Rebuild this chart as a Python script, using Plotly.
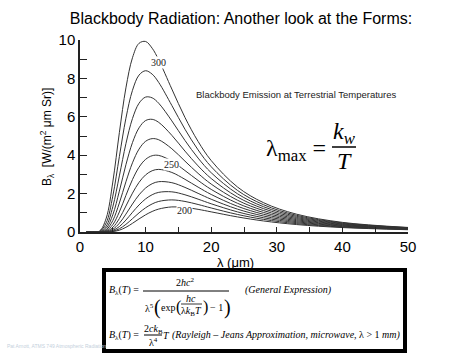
import plotly.graph_objects as go

# ---------------- data ----------------
wavelength_um = [1, 2, 3, 4, 5, 6, 7, 8, 9, 10, 11, 12, 14, 16, 18, 20, 24, 28, 33, 40, 50]
temperatures = [300, 290, 280, 270, 260, 250, 240, 230, 220, 210, 200]

B300 = [0, 0, 0.056, 0.722, 2.602, 5.176, 7.505, 9.077, 9.828, 9.923, 9.572, 8.960, 7.445, 5.967, 4.718, 3.722, 2.346, 1.523, 0.929, 0.502, 0.237]
B290 = [0, 0, 0.032, 0.478, 1.869, 3.926, 5.925, 7.378, 8.173, 8.400, 8.221, 7.788, 6.591, 5.353, 4.276, 3.399, 2.167, 1.417, 0.870, 0.474, 0.225]
B280 = [0, 0, 0.018, 0.307, 1.312, 2.923, 4.599, 5.910, 6.707, 7.027, 6.987, 6.705, 5.787, 4.768, 3.850, 3.087, 1.992, 1.314, 0.813, 0.445, 0.212]
B270 = [0, 0, 0.009, 0.191, 0.896, 2.129, 3.504, 4.657, 5.425, 5.804, 5.868, 5.710, 5.035, 4.214, 3.443, 2.786, 1.822, 1.213, 0.756, 0.417, 0.200]
B260 = [0, 0, 0.005, 0.114, 0.595, 1.512, 2.614, 3.604, 4.318, 4.724, 4.863, 4.804, 4.336, 3.691, 3.054, 2.496, 1.656, 1.113, 0.700, 0.389, 0.188]
B250 = [0, 0, 0.002, 0.066, 0.382, 1.046, 1.905, 2.732, 3.375, 3.783, 3.973, 3.988, 3.691, 3.200, 2.686, 2.219, 1.496, 1.016, 0.645, 0.362, 0.176]
B240 = [0, 0, 0.001, 0.036, 0.237, 0.701, 1.353, 2.023, 2.585, 2.975, 3.191, 3.261, 3.102, 2.744, 2.338, 1.955, 1.341, 0.922, 0.591, 0.335, 0.165]
B230 = [0, 0, 0, 0.019, 0.141, 0.454, 0.932, 1.460, 1.934, 2.291, 2.515, 2.621, 2.569, 2.323, 2.013, 1.706, 1.192, 0.830, 0.538, 0.308, 0.153]
B220 = [0, 0, 0, 0.009, 0.080, 0.283, 0.621, 1.024, 1.410, 1.723, 1.941, 2.065, 2.092, 1.939, 1.711, 1.470, 1.049, 0.741, 0.487, 0.282, 0.141]
B210 = [0, 0, 0, 0.004, 0.043, 0.168, 0.398, 0.694, 0.997, 1.261, 1.462, 1.592, 1.672, 1.591, 1.433, 1.251, 0.914, 0.656, 0.436, 0.256, 0.130]
B200 = [0, 0, 0, 0.002, 0.022, 0.095, 0.244, 0.452, 0.682, 0.895, 1.070, 1.195, 1.307, 1.281, 1.180, 1.049, 0.786, 0.574, 0.388, 0.231, 0.119]

series = [B300, B290, B280, B270, B260, B250, B240, B230, B220, B210, B200]

x_tick_vals = [0, 10, 20, 30, 40, 50]
y_tick_vals = [0, 2, 4, 6, 8, 10]

# curve labels: (temperature, wavelength at which the label sits)
curve_labels = [(300, 12), (250, 14), (200, 16)]

# ---------------- figure ----------------
W, H = 474, 355
L, R, T, Bm = 80, 66, 40, 123
PW, PH = W - L - R, H - T - Bm


def px(xp):
    return (xp - L) / PW


def py(yp):
    return (H - Bm - yp) / PH


fig = go.Figure()
for temp, vals in zip(temperatures, series):
    fig.add_trace(go.Scatter(
        x=wavelength_um, y=vals, mode="lines", name=f"{temp} K",
        line=dict(color="#333333", width=1, shape="spline", smoothing=1.0),
        showlegend=False, hoverinfo="skip"))

serif = "Liberation Serif, Times New Roman, serif"
sans = "Liberation Sans, Arial, sans-serif"

annotations = []
for temp, lam in curve_labels:
    vals = series[temperatures.index(temp)]
    yv = vals[wavelength_um.index(lam)]
    annotations.append(dict(x=lam, y=yv - 0.15, xref="x", yref="y", text=str(temp),
                            showarrow=False, bgcolor="white", borderpad=0,
                            font=dict(family=serif, size=10, color="#222")))


def ann(text, xp, yp, size, family=serif, xanchor="center", color="black", angle=0):
    annotations.append(dict(x=px(xp), y=py(yp), xref="paper", yref="paper", text=text,
                            showarrow=False, xanchor=xanchor, yanchor="middle", textangle=angle,
                            font=dict(family=family, size=size, color=color)))


shapes = []


def hline(x0, x1, yp, width=1):
    shapes.append(dict(type="line", xref="paper", yref="paper", x0=px(x0), x1=px(x1),
                       y0=py(yp), y1=py(yp), line=dict(color="black", width=width)))


# axis titles
ann("λ (μm)", 235, 262, 13, family=sans)
ann("B<sub>λ</sub>  [W/(m<sup>2</sup> μm Sr)]", 47, 137, 12, family=sans, angle=-90)
# in-plot caption
ann("Blackbody Emission at Terrestrial Temperatures", 194, 94, 9.5, family=sans, xanchor="left", color="#222")
# Wien's law
ann("λ<sub>max</sub> =", 328, 150, 24, xanchor="right")
ann("<i>k<sub>w</sub></i>", 344, 133, 24)
hline(332, 356, 147, 1.5)
ann("<i>T</i>", 344, 161, 24)

# formula box
shapes.append(dict(type="rect", xref="paper", yref="paper", x0=px(104), x1=px(405),
                   y0=py(351), y1=py(270), line=dict(color="black", width=4)))
fs = 10
ann("<i>B</i><sub>λ</sub>(<i>T</i>) =", 107, 290, fs, xanchor="left")
ann("2<i>hc</i><sup>2</sup>", 185, 282, fs)
hline(143, 229, 291)
ann("λ<sup>5</sup>", 149, 308, fs)
ann("(", 157, 307, 20)
ann("exp", 168, 307, fs)
ann("(", 178, 307, 16)
ann("<i>hc</i>", 191, 298, fs)
hline(181, 202, 304, 0.8)
ann("λ<i>k</i><sub>B</sub><i>T</i>", 191, 311, fs)
ann(")", 205, 307, 16)
ann("− 1", 216, 307, fs)
ann(")", 227, 307, 20)
ann("<i>(General Expression)</i>", 243, 290, fs, xanchor="left")

ann("<i>B</i><sub>λ</sub>(<i>T</i>) =", 107, 335, fs, xanchor="left")
ann("2<i>ck</i><sub>B</sub>", 153, 329, fs)
hline(144, 162, 335)
ann("λ<sup>4</sup>", 153, 342, fs)
ann("<i>T</i>", 166, 335, fs)
ann("<i>(Rayleigh – Jeans Approximation, microwave,</i> λ &gt; 1 <i>mm)</i>", 403, 335, fs, xanchor="right")

# footnote
ann("Pat Arnott, ATMS 749 Atmospheric Radiation", 5, 346, 5, family=sans, xanchor="left", color="#c5d0dc")

fig.update_layout(
    width=W, height=H,
    margin=dict(l=L, r=R, t=T, b=Bm),
    paper_bgcolor="white", plot_bgcolor="white",
    title=dict(text="Blackbody Radiation: Another look at the Forms:", x=241 / W, xanchor="center",
               y=1 - 18 / H, yanchor="middle", font=dict(family=sans, size=16, color="black")),
    xaxis=dict(range=[0, 50], tickvals=x_tick_vals, showgrid=False, zeroline=False,
               showline=True, linecolor="#222", linewidth=1.5,
               ticks="inside", ticklen=5, tickwidth=1, tickcolor="#222",
               minor=dict(dtick=5, ticks="inside", ticklen=5, tickwidth=1, tickcolor="#222", showgrid=False),
               tickfont=dict(family=sans, size=15, color="black")),
    yaxis=dict(range=[0, 10], tickvals=y_tick_vals, showgrid=False, zeroline=False,
               showline=True, linecolor="#222", linewidth=1.5,
               ticks="inside", ticklen=7, tickwidth=1, tickcolor="#222",
               minor=dict(dtick=1, ticks="inside", ticklen=7, tickwidth=1, tickcolor="#222", showgrid=False),
               tickfont=dict(family=sans, size=15, color="black")),
    annotations=annotations,
    shapes=shapes,
)

fig.write_html("out.html")
